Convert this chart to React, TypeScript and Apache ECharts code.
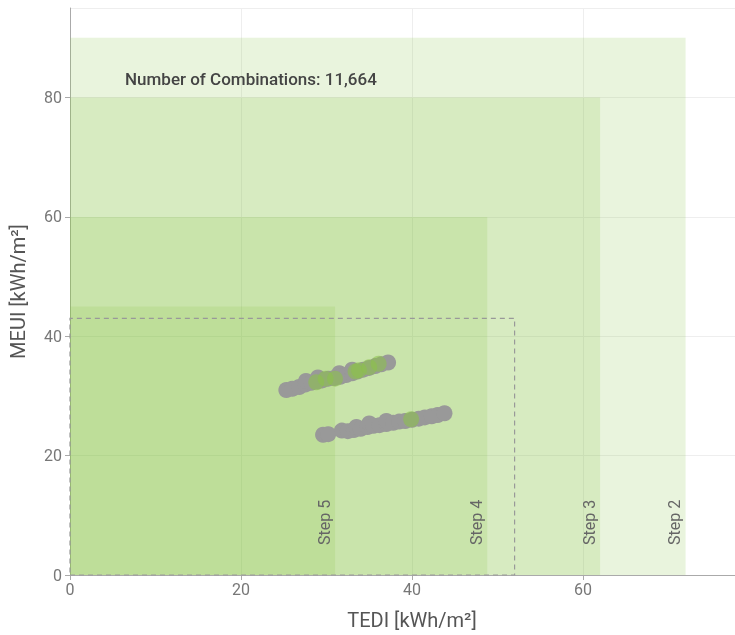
import React, { useEffect, useRef } from "react";
import * as echarts from "echarts";

const stepNames = ["Step 2", "Step 3", "Step 4", "Step 5"];
const stepTedi = [72, 62, 48.8, 31];
const stepMeui = [90, 80, 60, 45];
const targetTedi = 52;
const targetMeui = 43;
const combinationsLabel = "Number of Combinations: 11,664";

const grayPoints: [number, number][] = [
  [25.3, 31.0], [26.0, 31.2], [26.8, 31.5], [27.5, 31.9], [27.6, 32.5], [28.2, 32.2],
  [28.9, 32.4], [29.0, 33.1], [29.5, 32.6], [30.2, 32.9], [30.9, 33.0], [31.5, 33.8],
  [31.6, 33.2], [32.3, 33.5], [33.0, 33.8], [33.0, 34.4], [33.6, 34.1], [34.3, 34.4],
  [35.0, 34.7], [35.7, 35.0], [36.4, 35.3], [37.2, 35.6],
  [29.6, 23.5], [30.2, 23.6], [31.8, 24.2], [32.5, 24.1], [33.2, 24.3], [33.5, 24.8],
  [34.0, 24.5], [34.8, 24.8], [35.0, 25.4], [35.5, 25.0], [36.2, 25.1], [37.0, 25.3],
  [37.0, 25.8], [37.8, 25.5], [38.5, 25.7], [39.2, 25.8], [40.0, 26.0], [40.8, 26.2],
  [41.5, 26.4], [42.3, 26.6], [43.0, 26.8], [43.8, 27.1],
];

const greenPoints: [number, number][] = [
  [28.8, 32.3], [29.9, 32.9], [31.0, 32.9], [33.4, 34.1], [33.8, 34.3],
  [35.0, 34.8], [36.1, 35.4], [39.9, 26.1],
];

const xTicks = [0, 20, 40, 60, 80];
const yTicks = [0, 20, 40, 60, 80];

export default function App() {
  const ref = useRef<HTMLDivElement>(null);
  useEffect(() => {
    if (!ref.current) return;
    const chart = echarts.init(ref.current, undefined, { renderer: "svg" });
    const font = "Roboto, 'Noto Sans', sans-serif";
    const areaData = stepNames.map((n, i) => [
      { xAxis: 0, yAxis: 0, itemStyle: { color: "rgba(139,195,74,0.19)" } },
      { xAxis: stepTedi[i], yAxis: stepMeui[i] },
    ]);
    chart.setOption({
      animation: false,
      textStyle: { fontFamily: font },
      grid: { left: 70, top: 8, bottom: 60, right: -19, outerBoundsMode: "none", containLabel: false },
      xAxis: {
        type: "value",
        min: xTicks[0],
        max: xTicks[xTicks.length - 1],
        interval: 20,
        name: "TEDI [kWh/m²]",
        nameLocation: "middle",
        nameGap: 35,
        nameTextStyle: { fontSize: 20, color: "#555" },
        axisLine: { lineStyle: { color: "#aaa" } },
        axisTick: { show: true, length: 5, lineStyle: { color: "#aaa" } },
        axisLabel: { color: "#777", fontSize: 16, margin: 6, showMaxLabel: false },
        splitLine: { lineStyle: { color: "#eeeeee" } },
      },
      yAxis: {
        type: "value",
        min: yTicks[0],
        max: 95,
        interval: 20,
        name: "MEUI [kWh/m²]",
        nameLocation: "middle",
        nameGap: 42,
        nameTextStyle: { fontSize: 20, color: "#555" },
        axisLine: { show: true, lineStyle: { color: "#aaa" } },
        axisTick: { show: true, length: 5, lineStyle: { color: "#aaa" } },
        axisLabel: { color: "#777", fontSize: 16, margin: 8, showMaxLabel: false },
        splitLine: { lineStyle: { color: "#eeeeee" } },
      },
      graphic: [
        {
          type: "text",
          left: 125,
          top: 70,
          style: {
            text: combinationsLabel,
            fill: "#444",
            font: `500 17px ${font}`,
          },
          z: 10,
        },
      ],
      series: [
        {
          type: "scatter",
          data: [],
          z: 1,
          markArea: { silent: true, data: areaData },
        },
        {
          type: "scatter",
          data: [],
          z: 2,
          markArea: {
            silent: true,
            itemStyle: {
              color: "rgba(0,0,0,0)",
              borderColor: "#999",
              borderWidth: 1.2,
              borderType: [5, 4],
            },
            data: [[{ xAxis: 0, yAxis: 0 }, { xAxis: targetTedi, yAxis: targetMeui }]],
          },
        },
        {
          type: "scatter",
          z: 3,
          symbolSize: 16,
          itemStyle: { color: "#999999", opacity: 1 },
          data: grayPoints,
          markLine: {
            silent: true,
            symbol: "none",
            lineStyle: { color: "transparent", width: 0 },
            label: {
              show: true,
              position: "insideStartTop",
              color: "#666",
              fontSize: 16,
              distance: [30, 3],
            },
            data: stepNames.map((n, i) => ({
              xAxis: stepTedi[i],
              label: { formatter: n },
            })),
          },
        },
        {
          type: "scatter",
          z: 4,
          symbolSize: 16,
          itemStyle: { color: "rgba(139,195,74,0.7)" },
          data: greenPoints,
        },
      ],
    });
    return () => chart.dispose();
  }, []);
  return (
    <div
      ref={ref}
      style={{ position: "fixed", left: 0, top: 0, width: 735, height: 635 }}
    />
  );
}
